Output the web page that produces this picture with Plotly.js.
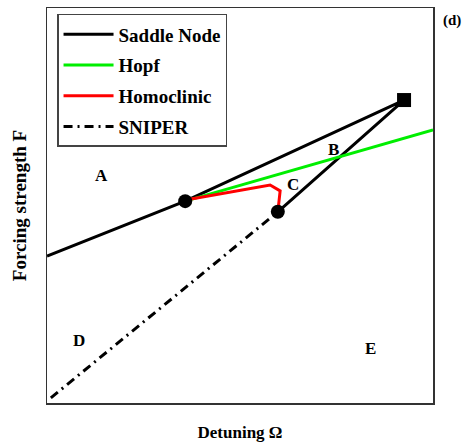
<!DOCTYPE html>
<html>
<head>
<meta charset="utf-8">
<script src="https://cdn.plot.ly/plotly-3.0.1.min.js"></script>
<style>html,body{margin:0;padding:0;background:#fff;}#chart{width:474px;height:447px;}</style>
</head>
<body>
<div id="chart"></div>
<script>
// Curves in arbitrary (Detuning, Forcing) units
const saddleX = [0.00, 3.58, 9.25, 5.98];
const saddleY = [3.72, 5.11, 7.67, 4.84];
const hopfX = [3.58, 10.0];
const hopfY = [5.11, 6.91];
const homoX = [3.70, 5.78, 6.04, 6.01, 5.98];
const homoY = [5.16, 5.52, 5.37, 5.01, 4.84];
const sniperX = [0.10, 5.98];
const sniperY = [0.13, 4.84];
const bogdanovX = [3.58, 5.98];
const bogdanovY = [5.11, 4.84];
const cuspX = [9.25];
const cuspY = [7.67];
const regionLabels = ['A', 'B', 'C', 'D', 'E'];
const regionX = [1.42, 7.41, 6.37, 0.83, 8.37];
const regionY = [5.75, 6.41, 5.52, 1.57, 1.39];
const panelLabel = '(d)';

const serif = 'Liberation Serif, DejaVu Serif, serif';
const traces = [
  {x: saddleX, y: saddleY, mode: 'lines', name: 'Saddle Node', legendgroup: 'a',
   line: {color: '#000000', width: 3}},
  {x: hopfX, y: hopfY, mode: 'lines', name: 'Hopf', legendgroup: 'b',
   line: {color: '#00ee00', width: 3}},
  {x: homoX, y: homoY, mode: 'lines', name: 'Homoclinic', legendgroup: 'c',
   line: {color: '#ff0000', width: 3}},
  {x: sniperX, y: sniperY, mode: 'lines', name: 'SNIPER', legendgroup: 'd',
   line: {color: '#000000', width: 3, dash: '9px,5px,2px,5px'}},
  {x: bogdanovX, y: bogdanovY, mode: 'markers', showlegend: false,
   marker: {symbol: 'circle', size: 14, color: '#000000'}},
  {x: cuspX, y: cuspY, mode: 'markers', showlegend: false,
   marker: {symbol: 'square', size: 14, color: '#000000'}}
];

const annotations = regionLabels.map((t, i) => ({
  x: regionX[i], y: regionY[i], xref: 'x', yref: 'y', text: t, showarrow: false,
  font: {family: serif, size: 17, color: '#000', weight: 'bold'}
}));
annotations.push({x: (452 - 47) / 386, y: (403 - 20) / 395, xref: 'paper', yref: 'paper',
  text: panelLabel, showarrow: false, xanchor: 'center', yanchor: 'middle',
  font: {family: serif, size: 15, color: '#000', weight: 'bold'}});

const layout = {
  width: 474, height: 447,
  margin: {l: 47, r: 41, t: 8, b: 44},
  paper_bgcolor: '#fff', plot_bgcolor: '#fff',
  showlegend: true,
  legend: {x: 0.026, y: 0.985, xanchor: 'left', yanchor: 'top',
    bgcolor: '#fff', bordercolor: '#444', borderwidth: 1.5,
    traceorder: 'grouped', tracegroupgap: 3, itemwidth: 50,
    font: {family: serif, size: 19, color: '#000', weight: 'bold'}},
  xaxis: {range: [0, 10], showgrid: false, zeroline: false, showticklabels: false, ticks: '',
    showline: true, mirror: true, linecolor: '#333', linewidth: 1.5,
    title: {text: 'Detuning Ω', standoff: 22, font: {family: serif, size: 17, color: '#000', weight: 'bold'}}},
  yaxis: {range: [0, 10], showgrid: false, zeroline: false, showticklabels: false, ticks: '',
    showline: true, mirror: true, linecolor: '#333', linewidth: 1.5,
    title: {text: 'Forcing strength F', standoff: 14, font: {family: serif, size: 19, color: '#000', weight: 'bold'}}},
  annotations: annotations
};

Plotly.newPlot('chart', traces, layout, {displayModeBar: false, staticPlot: true});
</script>
</body>
</html>
